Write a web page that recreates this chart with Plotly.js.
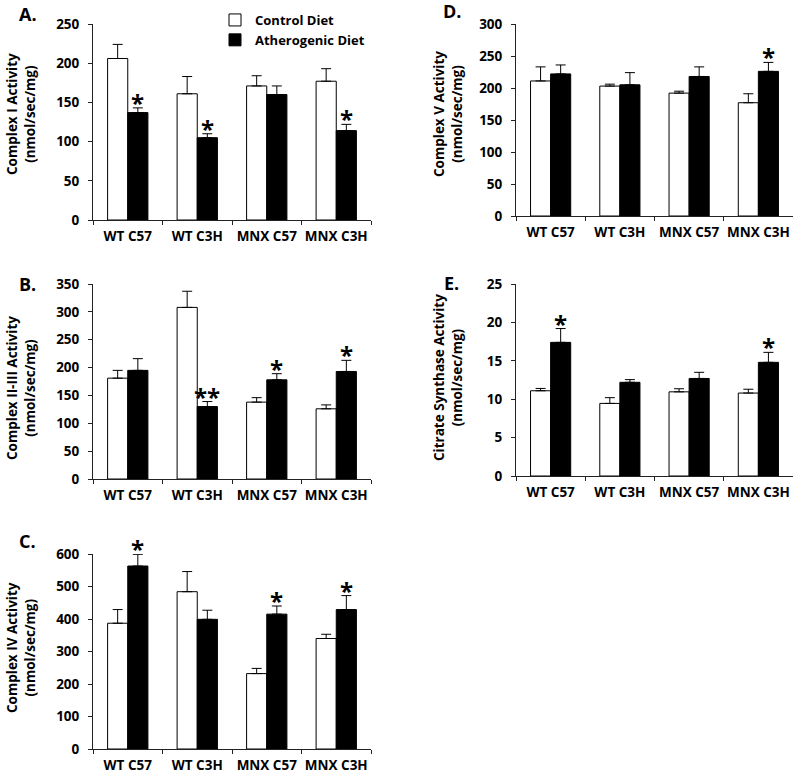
<!DOCTYPE html>
<html>
<head>
<meta charset="utf-8">
<script src="https://cdn.plot.ly/plotly-3.0.1.min.js"></script>
<style>
html, body { margin: 0; padding: 0; background: #fff; }
#chart { width: 800px; height: 781px; }
</style>
</head>
<body>
<div id="chart"></div>
<script>
// ---- Data ----
const categories = ['WT C57', 'WT C3H', 'MNX C57', 'MNX C3H'];
const seriesNames = ['Control Diet', 'Atherogenic Diet'];

// A. Complex I
const complexI_control = [206, 161, 171, 177];
const complexI_controlErr = [18, 22, 13, 16];
const complexI_athero = [137, 105, 160, 114];
const complexI_atheroErr = [6, 5, 11, 8];
const complexI_stars = ['*', '*', '', '*'];

// B. Complex II-III
const complexII_control = [181, 308, 138, 126];
const complexII_controlErr = [14, 29, 8, 7];
const complexII_athero = [195, 130, 178, 193];
const complexII_atheroErr = [21, 9, 11, 20];
const complexII_stars = ['', '**', '*', '*'];

// C. Complex IV
const complexIV_control = [387, 484, 232, 340];
const complexIV_controlErr = [42, 62, 16, 13];
const complexIV_athero = [563, 399, 415, 429];
const complexIV_atheroErr = [36, 28, 25, 43];
const complexIV_stars = ['*', '', '*', '*'];

// D. Complex V
const complexV_control = [211, 203, 192, 177];
const complexV_controlErr = [22, 3, 3, 14];
const complexV_athero = [222, 205, 218, 226];
const complexV_atheroErr = [14, 19, 15, 14];
const complexV_stars = ['', '', '', '*'];

// E. Citrate Synthase
const cs_control = [11.1, 9.45, 10.96, 10.8];
const cs_controlErr = [0.3, 0.75, 0.4, 0.5];
const cs_athero = [17.4, 12.2, 12.7, 14.8];
const cs_atheroErr = [1.8, 0.35, 0.8, 1.3];
const cs_stars = ['*', '', '', '*'];

// ---- Layout helpers ----
const W = 800, H = 781;
const FONT = '"Open Sans", "DejaVu Sans", sans-serif';
const px2x = p => p / W;
const px2y = p => 1 - p / H;

const panels = [
  { letter: 'A.', title: 'Complex I Activity<br>(nmol/sec/mg)', ctrl: complexI_control, ctrlErr: complexI_controlErr, ath: complexI_athero, athErr: complexI_atheroErr, stars: complexI_stars, range: [0, 250], dtick: 50, xd: [93, 371], yd: [24, 220], letterPos: [28, 14], titlePos: [21, 114], legend: true },
  { letter: 'B.', title: 'Complex II-III Activity<br>(nmol/sec/mg)', ctrl: complexII_control, ctrlErr: complexII_controlErr, ath: complexII_athero, athErr: complexII_atheroErr, stars: complexII_stars, range: [0, 350], dtick: 50, xd: [93, 371], yd: [284, 479], letterPos: [27, 284], titlePos: [21, 388] },
  { letter: 'C.', title: 'Complex IV Activity<br>(nmol/sec/mg)', ctrl: complexIV_control, ctrlErr: complexIV_controlErr, ath: complexIV_athero, athErr: complexIV_atheroErr, stars: complexIV_stars, range: [0, 600], dtick: 100, xd: [93, 371], yd: [554, 749], letterPos: [27, 541], titlePos: [21, 648] },
  { letter: 'D.', title: 'Complex V Activity<br>(nmol/sec/mg)', ctrl: complexV_control, ctrlErr: complexV_controlErr, ath: complexV_athero, athErr: complexV_atheroErr, stars: complexV_stars, range: [0, 300], dtick: 50, xd: [516, 793], yd: [24, 216], letterPos: [452, 11], titlePos: [448, 114] },
  { letter: 'E.', title: 'Citrate Synthase Activity<br>(nmol/sec/mg)', ctrl: cs_control, ctrlErr: cs_controlErr, ath: cs_athero, athErr: cs_atheroErr, stars: cs_stars, range: [0, 25], dtick: 5, xd: [516, 793], yd: [284, 476], letterPos: [451, 283], titlePos: [448, 378] }
];

const data = [];
const layout = {
  width: W, height: H,
  margin: { l: 0, r: 0, t: 0, b: 0 },
  paper_bgcolor: '#fff', plot_bgcolor: '#fff',
  barmode: 'group', bargap: 0.42, bargroupgap: 0,
  showlegend: true,
  legend: {
    x: px2x(215), y: px2y(5), xanchor: 'left', yanchor: 'top',
    font: { family: FONT, size: 13, color: '#000', weight: 'bold' },
    tracegroupgap: 0, itemwidth: 30, bgcolor: 'rgba(0,0,0,0)'
  },
  annotations: [],
  font: { family: FONT, color: '#000' }
};

panels.forEach((p, i) => {
  const n = i + 1;
  const xa = n === 1 ? 'x' : 'x' + n;
  const ya = n === 1 ? 'y' : 'y' + n;
  const xkey = n === 1 ? 'xaxis' : 'xaxis' + n;
  const ykey = n === 1 ? 'yaxis' : 'yaxis' + n;
  const zeros = p.ctrl.map(() => 0);

  data.push({
    type: 'bar', name: seriesNames[0], x: categories, y: p.ctrl,
    xaxis: xa, yaxis: ya, showlegend: !!p.legend, legendgroup: 'c',
    marker: { color: '#ffffff', line: { color: '#000', width: 1 } },
    error_y: { type: 'data', symmetric: false, array: p.ctrlErr, arrayminus: zeros, color: '#000', thickness: 1, width: 5 },
    hoverinfo: 'skip'
  });
  data.push({
    type: 'bar', name: seriesNames[1], x: categories, y: p.ath,
    xaxis: xa, yaxis: ya, showlegend: !!p.legend, legendgroup: 'a',
    marker: { color: '#000000', line: { color: '#000', width: 1 } },
    error_y: { type: 'data', symmetric: false, array: p.athErr, arrayminus: zeros, color: '#000', thickness: 1, width: 5 },
    hoverinfo: 'skip'
  });

  layout[xkey] = {
    domain: [px2x(p.xd[0]), px2x(p.xd[1])],
    anchor: ya, type: 'category', range: [-0.5, 3.5],
    showline: true, linecolor: '#222', linewidth: 1,
    ticks: 'outside', tickson: 'boundaries', ticklen: 4, tickcolor: '#222',
    tickangle: 0, ticklabelstandoff: 4,
    showgrid: false, zeroline: false, fixedrange: true,
    tickfont: { family: FONT, size: 13.5, color: '#000', weight: 'bold' }
  };
  layout[ykey] = {
    domain: [px2y(p.yd[1]), px2y(p.yd[0])],
    anchor: xa, range: p.range, dtick: p.dtick, tick0: 0,
    showline: true, linecolor: '#222', linewidth: 1,
    ticks: 'outside', ticklen: 4, tickcolor: '#222', ticklabelstandoff: 6,
    showgrid: false, zeroline: false, fixedrange: true,
    tickfont: { family: FONT, size: 13.5, color: '#000', weight: 'bold' }
  };

  // significance stars above atherogenic bars
  p.stars.forEach((s, k) => {
    if (!s) return;
    layout.annotations.push({
      xref: xa, yref: ya, x: categories[k], y: p.ath[k] + p.athErr[k],
      text: s, showarrow: false, xanchor: 'center', yanchor: 'bottom',
      xshift: 10, yshift: -13,
      font: { family: FONT, size: 24, color: '#000', weight: 'bold' }
    });
  });

  // panel letter
  layout.annotations.push({
    xref: 'paper', yref: 'paper', x: px2x(p.letterPos[0]), y: px2y(p.letterPos[1]),
    text: p.letter, showarrow: false, xanchor: 'center', yanchor: 'middle',
    font: { family: FONT, size: 18, color: '#000', weight: 'bold' }
  });
  // y axis title
  layout.annotations.push({
    xref: 'paper', yref: 'paper', x: px2x(p.titlePos[0]), y: px2y(p.titlePos[1]),
    text: p.title, showarrow: false, xanchor: 'center', yanchor: 'middle', textangle: -90,
    font: { family: FONT, size: 13.5, color: '#000', weight: 'bold' }
  });
});

Plotly.newPlot('chart', data, layout, { displayModeBar: false, staticPlot: true });
</script>
</body>
</html>
